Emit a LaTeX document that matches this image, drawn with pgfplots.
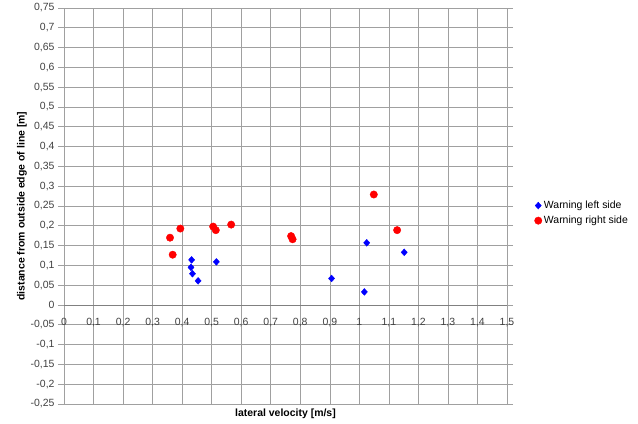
\documentclass[border=0pt]{standalone}
\usepackage{pgfplots}
\pgfplotsset{compat=1.18}
\usepackage{fontspec}
\setmainfont{Liberation Sans}
\definecolor{gridgray}{RGB}{160,160,160}
\begin{document}
\begin{tikzpicture}
\path[use as bounding box] (-64bp,-20bp) rectangle (574bp,404bp);
\begin{axis}[
  scale only axis,
  width=443bp, height=396bp,
  xmin=0, xmax=1.5, ymin=-0.25, ymax=0.75,
  xtick={0,0.1,0.2,0.3,0.4,0.5,0.6,0.7,0.8,0.9,1,1.1,1.2,1.3,1.4,1.5},
  xticklabels={0,{0,1},{0,2},{0,3},{0,4},{0,5},{0,6},{0,7},{0,8},{0,9},1,{1,1},{1,2},{1,3},{1,4},{1,5}},
  ytick={-0.25,-0.2,-0.15,-0.1,-0.05,0,0.05,0.1,0.15,0.2,0.25,0.3,0.35,0.4,0.45,0.5,0.55,0.6,0.65,0.7,0.75},
  yticklabels={{-0,25},{-0,2},{-0,15},{-0,1},{-0,05},0,{0,05},{0,1},{0,15},{0,2},{0,25},{0,3},{0,35},{0,4},{0,45},{0,5},{0,55},{0,6},{0,65},{0,7},{0,75}},
  grid=major,
  grid style={gridgray, line width=0.6pt},
  axis line style={gridgray, line width=0.6pt},
  tick label style={font=\fontsize{10.5}{12}\selectfont, text=black!75},
  xticklabel style={anchor=north, yshift=95bp},
  x tick style={draw=none},
  y tick style={gridgray, line width=0.6pt},
  tick align=outside,
  major tick length=6bp,
  label style={font=\bfseries\fontsize{10.5}{12}\selectfont},
  xlabel={lateral velocity [m/s]},
  xlabel style={at={(axis description cs:0.5,0)}, anchor=north, yshift=-1bp},
  ylabel={distance from outside edge of line [m]},
  ylabel style={at={(axis description cs:-0.095,0.5)}, anchor=center},
  legend style={at={(axis description cs:1.055,0.482)}, anchor=west, draw=none, fill=none,
    font=\fontsize{10.5}{12}\selectfont, row sep=2bp,
    /tikz/every even column/.append style={column sep=0pt}},
  legend cell align=left,
  legend image code/.code={\draw plot coordinates {(0.08cm,0cm)};},
  clip=false,
]
\addplot[black!50, line width=0.8pt, forget plot] coordinates {(0,0) (1.5,0)};
\addplot[only marks, mark=diamond*, color=blue, mark size=3.4bp, mark options={xscale=1.2}] coordinates {
  (0.432,0.114) (0.430,0.095) (0.435,0.079) (0.454,0.061) (0.516,0.109)
  (0.906,0.067) (1.025,0.157) (1.017,0.033) (1.152,0.133)
};
\addlegendentry{Warning left side}
\addplot[only marks, mark=*, color=red, mark size=3.7bp] coordinates {
  (0.359,0.170) (0.368,0.127) (0.394,0.193) (0.505,0.198) (0.514,0.189)
  (0.566,0.203) (0.769,0.174) (0.774,0.166) (1.049,0.279) (1.128,0.189)
};
\addlegendentry{Warning right side}
\end{axis}
\end{tikzpicture}
\end{document}
